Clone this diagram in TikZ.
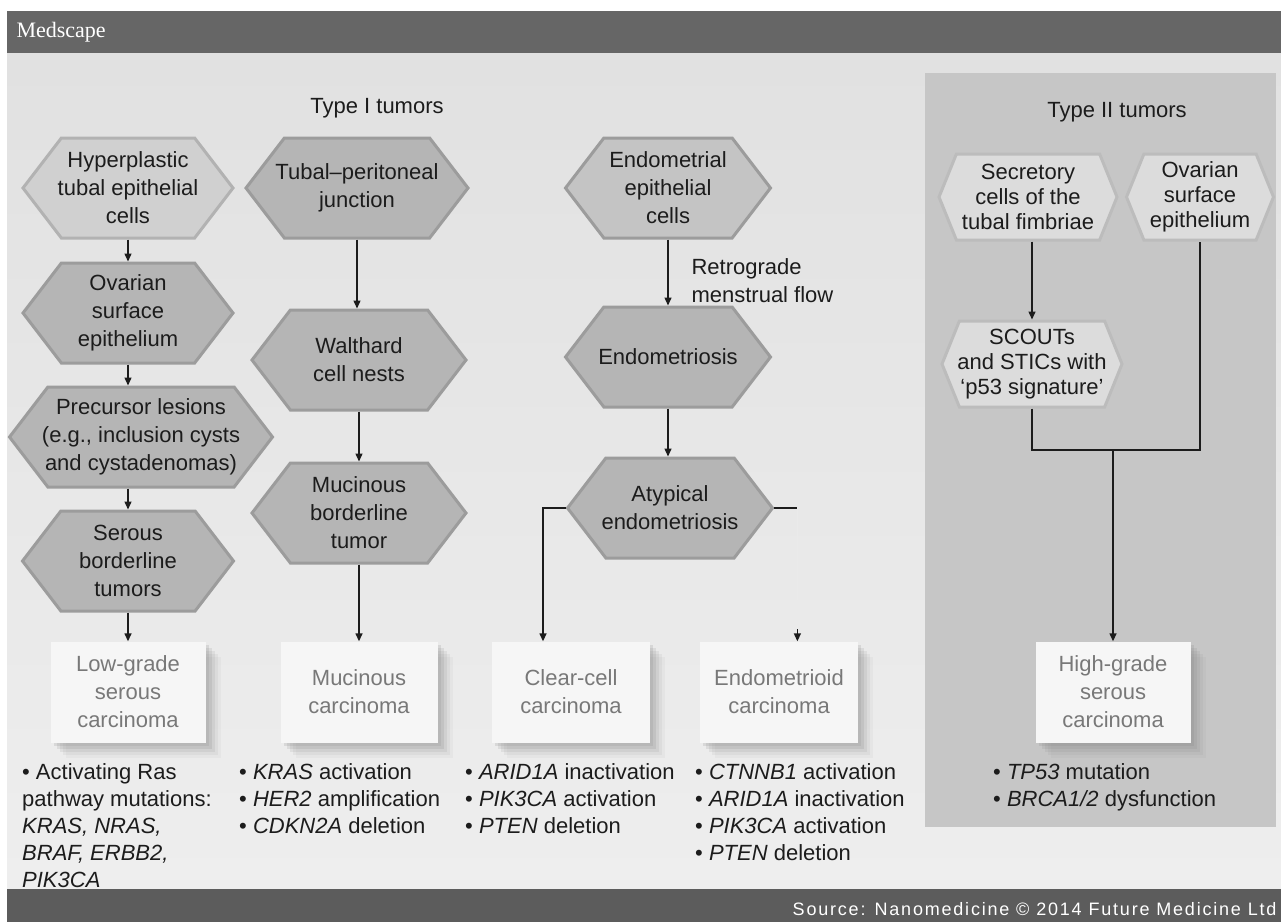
\documentclass[tikz,border=0pt]{standalone}
\usepackage{fontspec}
\setmainfont{Liberation Sans}
\newfontfamily\hdrfont{Liberation Serif}
\newfontfamily\srcfont[LetterSpace=10]{Liberation Sans}
\usetikzlibrary{shapes.symbols,arrows.meta,shadows}
\definecolor{bgc}{HTML}{E1E1E1}
\definecolor{bgb}{HTML}{EEEEEE}
\definecolor{barc}{HTML}{666666}
\definecolor{footc}{HTML}{5C5C5C}
\definecolor{panelc}{HTML}{C6C6C6}
\definecolor{hexd}{HTML}{B5B5B5}
\definecolor{hexdb}{HTML}{9C9C9C}
\definecolor{hexl}{HTML}{D0D0D0}
\definecolor{hexlb}{HTML}{B2B2B2}
\definecolor{hexm}{HTML}{C4C4C4}
\definecolor{hexw}{HTML}{DCDCDC}
\definecolor{hexwb}{HTML}{BCBCBC}
\definecolor{boxc}{HTML}{F6F6F6}
\definecolor{boxtxt}{HTML}{787878}
\definecolor{linec}{HTML}{1C1C1C}
\definecolor{faintc}{HTML}{EAEAEA}
\begin{document}
\begin{tikzpicture}[x=1pt,y=-1pt,
  every node/.style={font=\fontsize{22}{28}\selectfont, text=linec},
  hexa/.style={shape=signal, signal to=east and west, signal pointer angle=105,
    align=center, inner xsep=-30pt, inner ysep=0pt, line width=3pt,
    minimum height=100pt},
  hexdark/.style={hexa, fill=hexd, draw=hexdb},
  hexlight/.style={hexa, fill=hexl, draw=hexlb},
  hexmid/.style={hexa, fill=hexm, draw=hexdb},
  hexII/.style={hexa, signal pointer angle=136, fill=hexw, draw=hexwb,
    minimum height=86pt, font=\fontsize{22}{25}\selectfont},
  cbox/.style={rectangle, fill=boxc, minimum width=157pt, minimum height=101pt,
    align=center, text=boxtxt,
    drop shadow={shadow xshift=3pt,shadow yshift=-3pt,opacity=.18},
    drop shadow={shadow xshift=6pt,shadow yshift=-6pt,opacity=.15},
    drop shadow={shadow xshift=9pt,shadow yshift=-9pt,opacity=.12},
    drop shadow={shadow xshift=12pt,shadow yshift=-12pt,opacity=.09},
    drop shadow={shadow xshift=15pt,shadow yshift=-15pt,opacity=.06}},
  conn/.style={draw=linec, line width=1.4pt},
  arr/.style={conn, -{Triangle[length=8pt,width=7pt]}},
  bul/.style={anchor=north west, align=left, inner sep=0pt,
    font=\fontsize{22}{27}\selectfont},
]
\useasboundingbox (0,0) rectangle (1281,922);
\fill[white] (0,0) rectangle (1281,922);
% background
\shade[top color=bgc, middle color=bgc, bottom color=bgb] (7,53) rectangle (1281,889);
\fill[barc] (7,11) rectangle (1281,53);
\node[anchor=west, text=white, font=\hdrfont\fontsize{22}{26}\selectfont] (hdr) at (13,32) {Medscape};
% Type II panel
\fill[panelc] (925,73) rectangle (1276,827);

% titles
\node (t1) at (377,108) {Type I tumors};
\node (t2) at (1117,112) {Type II tumors};

% column 1
\node[hexlight, minimum width=210pt] (hyper) at (128,188) {Hyperplastic\\tubal epithelial\\cells};
\node[hexdark, minimum width=210pt] (ov1) at (128,313) {Ovarian\\surface\\epithelium};
\node[hexdark, minimum width=263pt] (prec) at (141,437) {Precursor lesions\\(e.g., inclusion cysts\\and cystadenomas)};
\node[hexdark, minimum width=211pt] (ser) at (128,561) {Serous\\borderline\\tumors};

% column 2
\node[hexdark, minimum width=222pt] (tubal) at (357,188) {Tubal--peritoneal\\junction};
\node[hexdark, minimum width=214pt] (walt) at (359,360) {Walthard\\cell nests};
\node[hexdark, minimum width=214pt] (mucb) at (359,513) {Mucinous\\borderline\\tumor};

% column 3
\node[hexmid, minimum width=205pt] (endc) at (668,188) {Endometrial\\epithelial\\cells};
\node[hexdark, minimum width=205pt] (endo) at (668,357) {Endometriosis};
\node[hexdark, minimum width=205pt] (atyp) at (670,508) {Atypical\\endometriosis};
\node[anchor=west, align=left] (retro) at (688,281) {Retrograde\\menstrual flow};

% type II
\node[hexII, minimum width=178pt] (secr) at (1028,197) {Secretory\\cells of the\\tubal fimbriae};
\node[hexII, minimum width=147pt] (ov2) at (1200,197) {Ovarian\\surface\\epithelium};
\node[hexII, minimum width=180pt] (scouts) at (1032,364) {SCOUTs\\and STICs with\\`p53 signature'};

% carcinoma boxes
\node[cbox, minimum width=155pt] (lg) at (128,692) {Low-grade\\serous\\carcinoma};
\node[cbox] (muc) at (359,692) {Mucinous\\carcinoma};
\node[cbox, minimum width=158pt] (cc) at (571,692) {Clear-cell\\carcinoma};
\node[cbox, minimum width=158pt] (en) at (779,692) {Endometrioid\\carcinoma};
\node[cbox, minimum width=155pt] (hg) at (1113,692) {High-grade\\serous\\carcinoma};

% connectors column 1
\draw[arr] (hyper.south) -- (ov1.north);
\draw[arr] (ov1.south) -- (ov1.south |- prec.north);
\draw[arr] (ser.north |- prec.south) -- (ser.north);
\draw[arr] (ser.south) -- (lg.north);
% column 2
\draw[arr] (tubal.south) -- (tubal.south |- walt.north);
\draw[arr] (walt.south) -- (mucb.north);
\draw[arr] (mucb.south) -- (muc.north);
% column 3
\draw[arr] (endc.south) -- (endc.south |- endo.north);
\draw[arr] (endo.south) -- (endo.south |- atyp.north);
\draw[arr] (atyp.west) -| ([xshift=-28pt]cc.north);
\draw[conn] (atyp.east) -- ++(23,0) coordinate (rj);
\draw[faintc, line width=1pt] (rj) -- (rj |- en.north);
\draw[arr] ([yshift=12pt]rj |- en.north) -- (rj |- en.north);
% type II
\draw[arr] (scouts.north |- secr.south) -- (scouts.north);
\coordinate (jn) at (1113,450);
\draw[conn] (scouts.south) |- (jn) -| (ov2.south);
\draw[arr] (jn) -- (hg.north);

% bullet lists
\node[bul] (b1) at (22,763) {\textbullet\ Activating Ras\\pathway mutations:\\\textit{KRAS, NRAS,}\\\textit{BRAF, ERBB2,}\\\textit{PIK3CA}};
\node[bul] (b2) at (239,763) {\textbullet\ \textit{KRAS} activation\\\textbullet\ \textit{HER2} amplification\\\textbullet\ \textit{CDKN2A} deletion};
\node[bul] (b3) at (465,763) {\textbullet\ \textit{ARID1A} inactivation\\\textbullet\ \textit{PIK3CA} activation\\\textbullet\ \textit{PTEN} deletion};
\node[bul] (b4) at (695,763) {\textbullet\ \textit{CTNNB1} activation\\\textbullet\ \textit{ARID1A} inactivation\\\textbullet\ \textit{PIK3CA} activation\\\textbullet\ \textit{PTEN} deletion};
\node[bul] (b5) at (993,763) {\textbullet\ \textit{TP53} mutation\\\textbullet\ \textit{BRCA1/2} dysfunction};

% footer
\fill[footc] (7,889) rectangle (1281,922);
\node[anchor=east, text=white, font=\srcfont\fontsize{18}{20}\selectfont] (src) at (1280,909) {Source: Nanomedicine \textcopyright\ 2014 Future Medicine Ltd};
\end{tikzpicture}
\end{document}
